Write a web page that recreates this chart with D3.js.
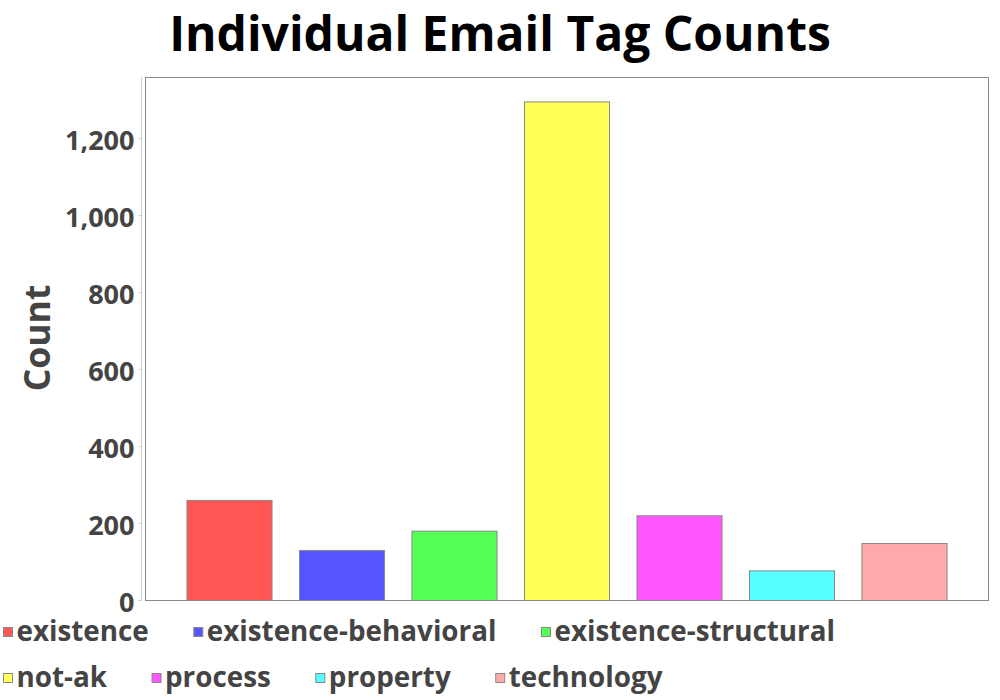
<!DOCTYPE html>
<html>
<head>
<meta charset="utf-8">
<script src="https://cdn.jsdelivr.net/npm/d3@7"></script>
<style>
  html, body { margin: 0; padding: 0; background: #fff; }
  svg { display: block; font-family: "Open Sans", sans-serif; }
</style>
</head>
<body>
<svg id="chart" width="1000" height="700"></svg>
<script>
const categories = ["existence", "existence-behavioral", "existence-structural", "not-ak", "process", "property", "technology"];
const counts = [260, 130, 180, 1295, 220, 77, 148];
const colors = ["#ff5555", "#5555ff", "#55ff55", "#ffff55", "#ff55ff", "#55ffff", "#ffaaaa"];
const yTicks = [0, 200, 400, 600, 800, 1000, 1200];
const titleText = "Individual Email Tag Counts";
const yLabel = "Count";

const svg = d3.select("#chart");
const frame = { left: 145, right: 988, top: 77, bottom: 600 };

const x = d3.scaleBand()
  .domain(categories)
  .range([172.75, 960.25])
  .paddingInner(0.244)
  .paddingOuter(0.122);

const y = d3.scaleLinear()
  .domain([0, 1200])
  .range([600, 138]);

// title
svg.append("text")
  .attr("x", 500).attr("y", 51)
  .attr("text-anchor", "middle")
  .attr("font-size", 48).attr("font-weight", 700)
  .attr("fill", "#000")
  .text(titleText);

// plot frame
svg.append("rect")
  .attr("x", frame.left + 0.5).attr("y", frame.top + 0.5)
  .attr("width", frame.right - frame.left).attr("height", frame.bottom - frame.top)
  .attr("fill", "none").attr("stroke", "#888").attr("stroke-width", 1);

// y axis
const yAxis = d3.axisLeft(y)
  .tickValues(yTicks)
  .tickFormat(d3.format(","))
  .tickSize(3).tickPadding(4);
const gy = svg.append("g")
  .attr("transform", "translate(141.5,0)")
  .call(yAxis);
gy.select(".domain").attr("stroke", "#ccc").attr("d", "M0,600.5V77");
gy.selectAll(".tick line").attr("stroke", "#ccc");
gy.selectAll(".tick text")
  .attr("font-size", 27).attr("font-weight", 700)
  .attr("dy", "0.42em")
  .attr("fill", "#444")
  .attr("font-family", "'Open Sans', sans-serif");

// y label
svg.append("text")
  .attr("transform", "translate(50,338) rotate(-90)")
  .attr("text-anchor", "middle")
  .attr("font-size", 35.5).attr("font-weight", 700)
  .attr("fill", "#444")
  .text(yLabel);

// bars
svg.append("g").selectAll("rect")
  .data(categories)
  .join("rect")
  .attr("x", d => x(d) + 0.5)
  .attr("y", (d, i) => y(counts[i]) + 0.5)
  .attr("width", x.bandwidth())
  .attr("height", (d, i) => y(0) - y(counts[i]))
  .attr("fill", (d, i) => colors[i])
  .attr("stroke", "#888")
  .attr("stroke-width", 1);

// legend (flow layout)
const legend = svg.append("g");
let lx = 3, row = 0;
const rowBaselines = [641, 687];
const maxX = 950;
categories.forEach((c, i) => {
  const g = legend.append("g");
  const t = g.append("text")
    .attr("font-size", 27.8).attr("font-weight", 700)
    .attr("fill", "#444")
    .text(c);
  const w = t.node().getComputedTextLength();
  if (lx + 13.5 + w > maxX && lx > 3) { row += 1; lx = 3; }
  const base = rowBaselines[row];
  t.attr("x", lx + 13.5).attr("y", base);
  g.append("rect")
    .attr("x", lx + 0.5).attr("y", base - 14 + 0.5)
    .attr("width", 9).attr("height", 9)
    .attr("fill", colors[i]).attr("stroke", "#888").attr("stroke-width", 1);
  lx = lx + 13.5 + w + 44.5;
});
</script>
</body>
</html>
